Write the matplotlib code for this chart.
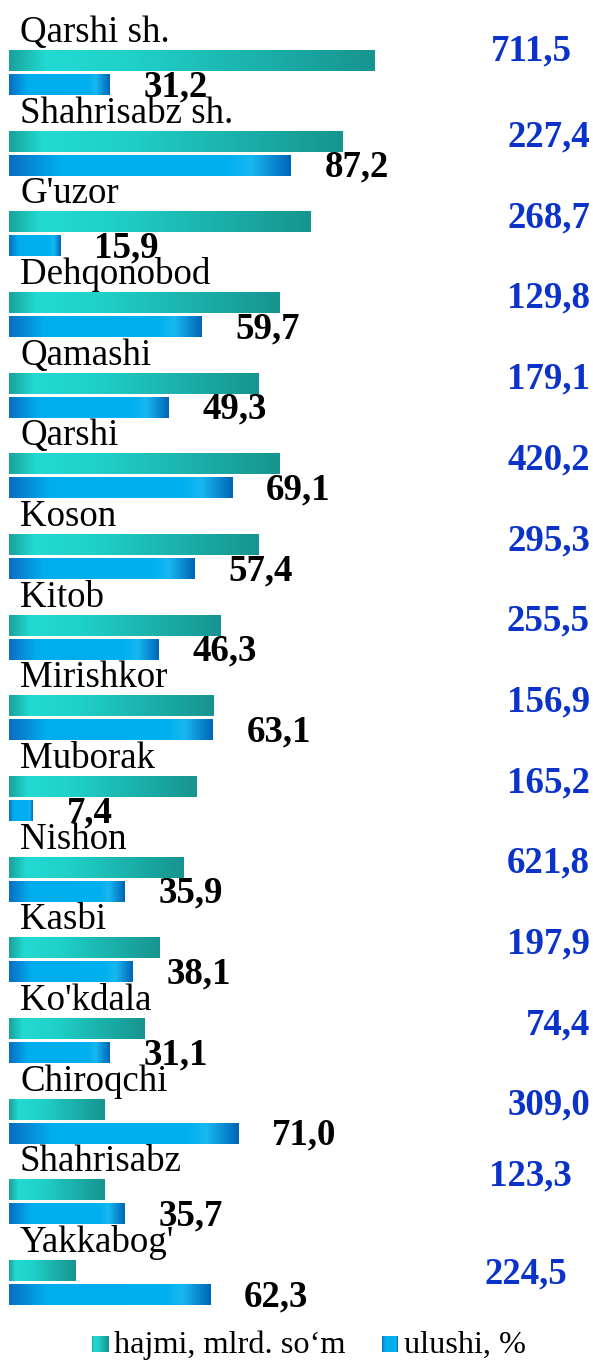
import numpy as np
import matplotlib.pyplot as plt
from matplotlib.colors import LinearSegmentedColormap

plt.rcParams['font.family'] = ['Liberation Serif', 'DejaVu Serif']

# data
tumanlar = ["Qarshi sh.", "Shahrisabz sh.", "G'uzor", "Dehqonobod", "Qamashi",
            "Qarshi", "Koson", "Kitob", "Mirishkor", "Muborak", "Nishon",
            "Kasbi", "Ko'kdala", "Chiroqchi", "Shahrisabz", "Yakkabog'"]
hajmi = [711.5, 227.4, 268.7, 129.8, 179.1, 420.2, 295.3, 255.5, 156.9,
         165.2, 621.8, 197.9, 74.4, 309.0, 123.3, 224.5]
# teal bar lengths as drawn (same scale as ulushi), estimated
hajmi_bar = [113.3, 103.1, 93.2, 83.6, 77.1, 83.6, 77.1, 65.6, 63.2,
             57.9, 53.9, 46.7, 41.8, 29.7, 29.7, 20.7]
ulushi = [31.2, 87.2, 15.9, 59.7, 49.3, 69.1, 57.4, 46.3, 63.1, 7.4,
          35.9, 38.1, 31.1, 71.0, 35.7, 62.3]

W, H = 593, 1360
PX = 0.72  # points per pixel at dpi 100
fig = plt.figure(figsize=(W / 100, H / 100), dpi=100)
x0 = 9
ax = fig.add_axes([x0 / W, 0, 1 - x0 / W, 1])
pitch = 80.67
c0 = 72.5

teal_cm = LinearSegmentedColormap.from_list(
    'teal', [(0, '#18a39c'), (0.1, '#22dad2'), (0.35, '#1fd0c8'), (1, '#17948f')])
blue_cm = LinearSegmentedColormap.from_list(
    'blue', [(0, '#0a6ec2'), (0.18, '#00adee'), (0.78, '#00b0f0'),
             (0.86, '#18b8f2'), (1, '#0066b6')])
grad = np.linspace(0, 1, 256)[np.newaxis, :]

y = np.arange(len(tumanlar))
off, h = 0.149, 0.26
teal = ax.barh(y - off, hajmi_bar, height=h, color='none')
blue = ax.barh(y + off, ulushi, height=h, color='none')

def fill(bars, cmap):
    for b in bars:
        ax.imshow(grad, cmap=cmap, aspect='auto', interpolation='bicubic',
                  extent=[b.get_x(), b.get_x() + b.get_width(),
                          b.get_y() + b.get_height(), b.get_y()])

fill(teal, teal_cm)
fill(blue, blue_cm)

fs = 26.6
nudge = {0: (-18, 5), 14: (-18, 10), 15: (-23, -7)}
for i, name in enumerate(tumanlar):
    tb, bb = teal[i], blue[i]
    ax.annotate(name, xy=(0, tb.get_y()), xytext=(11 * PX, 8 * PX),
                textcoords='offset points', va='baseline', ha='left',
                fontsize=fs, color='black')
    ax.annotate(f"{ulushi[i]:.1f}".replace('.', ','),
                xy=(bb.get_x() + bb.get_width(), bb.get_y() + bb.get_height()),
                xytext=(34 * PX, -1 * PX), textcoords='offset points',
                va='baseline', ha='left', fontsize=fs, fontweight='bold',
                color='black')
    dx, dy = nudge.get(i, (0, 0))
    ax.annotate(f"{hajmi[i]:.1f}".replace('.', ','),
                xy=(1, tb.get_y() + tb.get_height()),
                xycoords=('axes fraction', 'data'),
                xytext=((-3 + dx) * PX, (5 + dy) * PX), textcoords='offset points',
                va='baseline', ha='right', fontsize=fs, fontweight='bold',
                color='#0b33c9')

ax.set_xlim(0, (W - x0) / 3.23)
ax.set_ylim((H - c0) / pitch, -c0 / pitch)
ax.axis('off')

# legend
lax = fig.add_axes([0, 0, 1, 40 / H])
lax.imshow(grad, cmap=teal_cm, aspect='auto', extent=[92, 109, 8, 24])
lax.imshow(grad, cmap=blue_cm, aspect='auto', extent=[382, 398, 8, 24])
lax.text(114, 7.5, 'hajmi, mlrd. so\u2018m', fontsize=23.3, va='baseline', ha='left')
lax.text(404, 7.5, 'ulushi, %', fontsize=23.3, va='baseline', ha='left')
lax.set_xlim(0, W)
lax.set_ylim(0, 40)
lax.axis('off')

fig.savefig('out.png', dpi=100)
